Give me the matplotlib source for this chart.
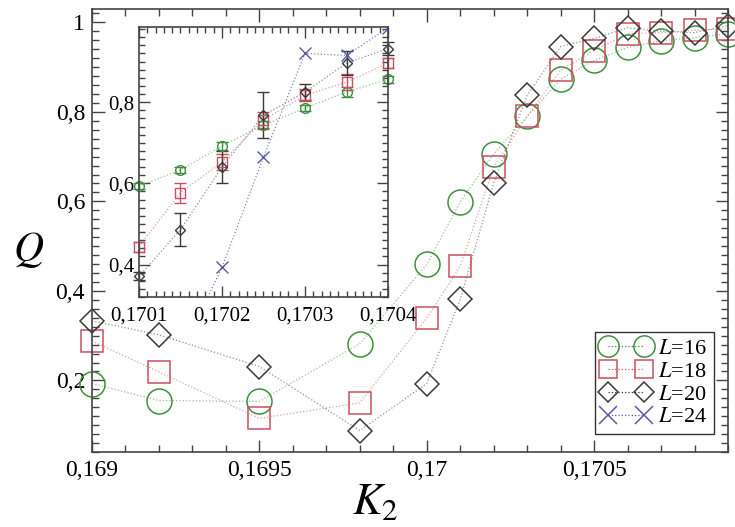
import matplotlib
matplotlib.use("Agg")
import matplotlib.pyplot as plt
from matplotlib.ticker import FuncFormatter, MultipleLocator

plt.rcParams["font.family"] = ["Liberation Serif", "DejaVu Serif"]
plt.rcParams["mathtext.fontset"] = "stix"

# ---- main panel data: Q versus K2 ----
k2_main = [0.1690, 0.1692, 0.1695, 0.1698, 0.1700, 0.1701, 0.1702,
           0.1703, 0.1704, 0.1705, 0.1706, 0.1707, 0.1708, 0.1709]
q16_main = [0.193, 0.155, 0.153, 0.282, 0.459, 0.599, 0.706,
            0.790, 0.873, 0.915, 0.944, 0.959, 0.966, 0.975]
q18_main = [0.288, 0.219, 0.115, 0.150, 0.339, 0.455, 0.677,
            0.790, 0.893, 0.937, 0.975, 0.977, 0.982, 0.986]
q20_main = [0.333, 0.302, 0.231, 0.088, 0.193, 0.381, 0.641,
            0.837, 0.946, 0.964, 0.988, 0.980, 0.977, 0.993]

# ---- inset data: zoom on the crossing region, with error bars ----
k2_inset = [0.17010, 0.17015, 0.17020, 0.17025, 0.17030, 0.17035, 0.17040]
q16_inset = [0.593, 0.633, 0.692, 0.744, 0.785, 0.825, 0.856]
e16_inset = [0.008, 0.008, 0.010, 0.010, 0.008, 0.012, 0.008]
q18_inset = [0.444, 0.577, 0.652, 0.756, 0.817, 0.849, 0.896]
e18_inset = [0.012, 0.025, 0.020, 0.020, 0.015, 0.020, 0.012]
q20_inset = [0.371, 0.486, 0.640, 0.768, 0.825, 0.896, 0.932]
e20_inset = [0.010, 0.040, 0.040, 0.057, 0.020, 0.030, 0.015]
k2_l24 = [0.17015, 0.17020, 0.17025, 0.17030, 0.17035, 0.17040]
q24_inset = [0.180, 0.393, 0.665, 0.920, 0.915, 0.983]

labels = ["$L$=16", "$L$=18", "$L$=20", "$L$=24"]
c16, c18, c20, c24 = "#3f8f3f", "#c9505f", "#3a3a3a", "#5a5aa8"
LINE_ALPHA = 0.55


def comma_fmt(v, pos):
    s = f"{v:.5f}".rstrip("0").rstrip(".")
    return s.replace(".", ",")


fig = plt.figure(figsize=(7.35, 5.27), dpi=100)
ax = fig.add_axes([0.1252, 0.1423, 0.8653, 0.8407])

series_main = [
    (q16_main, c16, "o", 18),
    (q18_main, c18, "s", 16),
    (q20_main, c20, "D", 12),
]
for q, c, m, ms in series_main:
    ax.plot(k2_main, q, ls=":", lw=0.9, color=c, alpha=LINE_ALPHA)
    ax.plot(k2_main, q, ls="none", marker=m, ms=ms, mfc="none", mec=c,
            mew=1.1, clip_on=False)

# legend handles: two markers joined by a dotted line
handles = []
for c, m, ms, lab in [(c16, "o", 18, labels[0]), (c18, "s", 16, labels[1]),
                      (c20, "D", 12, labels[2]), (c24, "x", 16, labels[3])]:
    h, = ax.plot([], [], ls=":", lw=0.9, color=c, marker=m, ms=ms,
                 mfc="none", mec=c, mew=1.1, label=lab)
    handles.append(h)

ax.set_xlim(0.1690, 0.1709)
ax.set_ylim(0.04, 1.03)
ax.xaxis.set_major_locator(MultipleLocator(0.0005))
ax.xaxis.set_minor_locator(MultipleLocator(0.0001))
ax.yaxis.set_major_locator(MultipleLocator(0.2))
ax.yaxis.set_minor_locator(MultipleLocator(0.02))
ax.xaxis.set_major_formatter(FuncFormatter(comma_fmt))
ax.yaxis.set_major_formatter(FuncFormatter(comma_fmt))
ax.tick_params(which="both", direction="in", top=True, right=True,
               color="#444444", width=1.0)
ax.tick_params(which="major", length=9, labelsize=17)
ax.tick_params(axis="x", which="major", pad=6)
ax.tick_params(axis="y", which="major", pad=5)
ax.tick_params(which="minor", length=5)
for sp in ax.spines.values():
    sp.set_color("#444444")
    sp.set_linewidth(1.2)

ax.set_xlabel("$K_2$", fontsize=32)
ax.xaxis.set_label_coords(0.445, -0.07)
ax.xaxis.label.set_va("top")
ax.set_ylabel("$Q$", fontsize=30, rotation=0)
ax.yaxis.set_label_coords(-0.10, 0.455)
ax.yaxis.label.set_va("center")
ax.yaxis.label.set_ha("center")

leg = ax.legend(handles=handles, loc="lower right",
                bbox_to_anchor=(0.978, 0.0406), borderaxespad=0,
                numpoints=2, fontsize=16, markerscale=0.85,
                handlelength=2.2, handletextpad=0.35, labelspacing=0.1,
                borderpad=0.3, fancybox=False, framealpha=1,
                edgecolor="#333333")
leg.get_frame().set_linewidth(1.0)

# ---- inset ----
ins = fig.add_axes([0.1891, 0.4364, 0.3388, 0.5123])
inset_series = [
    (q16_inset, e16_inset, c16, "o", 7),
    (q18_inset, e18_inset, c18, "s", 7),
    (q20_inset, e20_inset, c20, "D", 5.5),
]
for q, e, c, m, ms in inset_series:
    ins.plot(k2_inset, q, ls=":", lw=0.9, color=c, alpha=LINE_ALPHA)
    ins.errorbar(k2_inset, q, yerr=e, fmt=m, ms=ms,
                 mfc="none", mec=c, mew=1.0, ecolor=c, elinewidth=1.0,
                 capsize=4, capthick=1.0, clip_on=False)
ins.plot(k2_l24, q24_inset, ls=":", lw=0.9, color=c24, alpha=0.75)
ins.plot(k2_l24, q24_inset, ls="none", marker="x", ms=8, mec=c24, mew=1.0)

ins.set_xlim(0.1701, 0.1704)
ins.set_ylim(0.32, 0.985)
ins.xaxis.set_major_locator(MultipleLocator(0.0001))
ins.xaxis.set_minor_locator(MultipleLocator(0.00001))
ins.yaxis.set_major_locator(MultipleLocator(0.2))
ins.yaxis.set_minor_locator(MultipleLocator(0.02))
ins.xaxis.set_major_formatter(FuncFormatter(comma_fmt))
ins.yaxis.set_major_formatter(FuncFormatter(comma_fmt))
ins.tick_params(which="both", direction="in", top=True, right=True,
                color="#444444", width=1.0)
ins.tick_params(which="major", length=8, labelsize=15)
ins.tick_params(axis="x", which="major", pad=7)
ins.tick_params(axis="y", which="major", pad=3)
ins.tick_params(which="minor", length=4)
for sp in ins.spines.values():
    sp.set_color("#444444")
    sp.set_linewidth(1.2)

fig.savefig("out.png", dpi=100)
